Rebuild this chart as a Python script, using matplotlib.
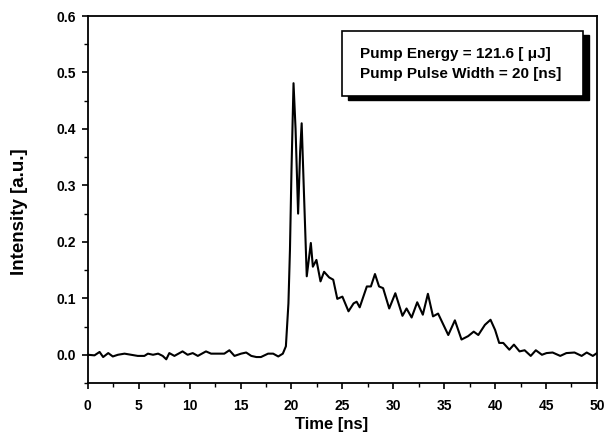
import matplotlib.pyplot as plt
import matplotlib.patches as patches
from matplotlib.ticker import MultipleLocator

plt.rcParams['font.family'] = ['Liberation Sans', 'DejaVu Sans']
plt.rcParams['font.weight'] = 'bold'

time_ns = [0, 0.65, 1.15, 1.5, 2.0, 2.45, 2.95, 3.6, 4.25, 4.9, 5.55, 5.9, 6.4, 6.9,
           7.35, 7.7, 8.0, 8.5, 9.3, 9.8, 10.3, 10.8, 11.6, 12.1, 12.8, 13.4, 13.9,
           14.4, 15.05, 15.55, 16.05, 16.55, 17.0, 17.7, 18.2, 18.7, 19.15, 19.45,
           19.7, 19.85, 20.0, 20.2, 20.4, 20.65, 20.85, 21.0, 21.2, 21.5, 21.9, 22.1,
           22.45, 22.85, 23.2, 23.7, 24.1, 24.5, 25.0, 25.6, 26.1, 26.4, 26.7, 27.4,
           27.8, 28.2, 28.6, 29.0, 29.6, 30.2, 30.9, 31.3, 31.8, 32.35, 32.9, 33.4,
           33.9, 34.4, 35.4, 36.05, 36.7, 37.35, 37.9, 38.35, 39.0, 39.55, 40.0,
           40.4, 40.8, 41.4, 41.85, 42.4, 42.9, 43.5, 44.0, 44.6, 45.05, 45.65,
           46.4, 47.0, 47.8, 48.5, 49.0, 49.6, 50.0]
intensity = [0.0, -0.001, 0.005, -0.004, 0.003, -0.003, 0.0, 0.002, 0.0, -0.002,
             -0.002, 0.002, 0.0, 0.002, -0.002, -0.008, 0.003, -0.002, 0.006, 0.0,
             0.003, -0.002, 0.006, 0.002, 0.002, 0.002, 0.008, -0.002, 0.002, 0.004,
             -0.002, -0.004, -0.004, 0.002, 0.002, -0.003, 0.002, 0.015,
             0.091, 0.186, 0.327, 0.481, 0.40, 0.25, 0.36, 0.41, 0.30, 0.139, 0.198,
             0.156, 0.168, 0.130, 0.147, 0.137, 0.133, 0.099, 0.103, 0.077, 0.091,
             0.094, 0.084, 0.121, 0.121, 0.143, 0.121, 0.118, 0.082, 0.109, 0.069,
             0.082, 0.066, 0.093, 0.071, 0.108, 0.068, 0.073, 0.035, 0.061, 0.027,
             0.033, 0.041, 0.035, 0.053, 0.062, 0.044, 0.021, 0.021, 0.009, 0.018,
             0.006, 0.008, -0.002, 0.008, 0.0, 0.003, 0.004, -0.002, 0.003, 0.004,
             -0.002, 0.004, -0.002, 0.003]

info_lines = ['Pump Energy = 121.6 [ \u03bcJ]', 'Pump Pulse Width = 20 [ns]']

fig = plt.figure(figsize=(6.06, 4.41), dpi=100)
ax = fig.add_axes([0.145, 0.1315, 0.840, 0.8322])

ax.plot(time_ns, intensity, color='black', linewidth=1.5)

ax.set_xlim(0, 50)
ax.set_ylim(-0.05, 0.6)
ax.xaxis.set_major_locator(MultipleLocator(5))
ax.xaxis.set_minor_locator(MultipleLocator(2.5))
ax.yaxis.set_major_locator(MultipleLocator(0.1))
ax.yaxis.set_minor_locator(MultipleLocator(0.05))
ax.yaxis.set_major_formatter(plt.FormatStrFormatter('%.1f'))
ax.tick_params(which='major', direction='out', length=4.3, width=1.2, labelsize=10)
ax.tick_params(which='minor', direction='out', length=2.9, width=1.0)
ax.tick_params(axis='x', which='major', pad=7)
ax.tick_params(axis='y', which='major', pad=4)
for lbl in ax.get_xticklabels() + ax.get_yticklabels():
    lbl.set_fontweight('bold')
for sp in ax.spines.values():
    sp.set_linewidth(1.3)

ax.set_xlabel('Time [ns]', fontsize=12, fontweight='bold', va='center')
ax.set_ylabel('Intensity [a.u.]', fontsize=13.5, fontweight='bold', va='center')
ax.xaxis.set_label_coords(0.479, -0.113)
ax.yaxis.set_label_coords(-0.134, 0.467)

# 影付きのテキストボックス
shadow = patches.Rectangle((0.512, 0.771), 0.472, 0.178, transform=ax.transAxes,
                           facecolor='black', edgecolor='black', zorder=4)
box = patches.Rectangle((0.500, 0.782), 0.472, 0.178, transform=ax.transAxes,
                        facecolor='white', edgecolor='black', linewidth=1.2, zorder=5)
ax.add_patch(shadow)
ax.add_patch(box)
ax.text(0.535, 0.897, info_lines[0], transform=ax.transAxes, fontsize=11,
        fontweight='bold', va='center', ha='left', zorder=6)
ax.text(0.535, 0.843, info_lines[1], transform=ax.transAxes, fontsize=11,
        fontweight='bold', va='center', ha='left', zorder=6)

fig.savefig('out.png', dpi=100)
